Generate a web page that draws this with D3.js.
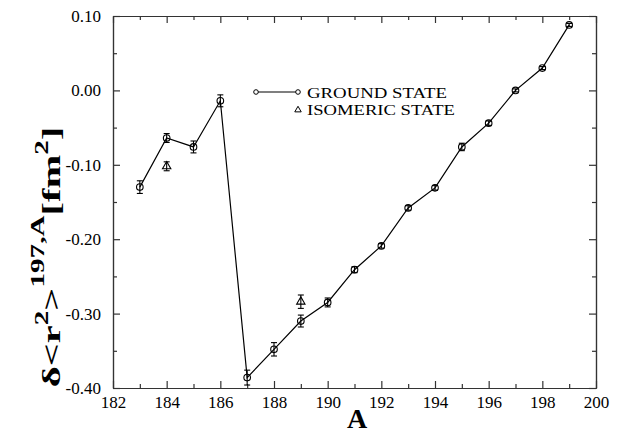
<!DOCTYPE html>
<html lang="en">
<head>
	<meta charset="UTF-8">
	<title>Document</title>
	<script type="text/javascript" src="https://cdn.jsdelivr.net/npm/d3@7/dist/d3.min.js"></script>
	<style>
		body { margin: 0; background: #fff; }
		text { font-family: "Liberation Serif", "Times New Roman", serif; }
	</style>
</head>
<body>
	<div class="chart"></div>
	<script type="text/javascript">
		// ground state
		var massA = [183,184,185,186,187,188,189,190,191,192,193,194,195,196,197,198,199];
		var ground = [-0.130,-0.064,-0.076,-0.014,-0.386,-0.348,-0.310,-0.285,-0.241,-0.209,-0.158,-0.131,-0.076,-0.044,0.000,0.030,0.088];
		var groundErr = [0.0085,0.006,0.008,0.008,0.010,0.009,0.008,0.006,0.004,0.003,0.003,0.003,0.005,0.003,0.002,0.002,0.002];
		// isomeric state
		var isoA = [184,189];
		var iso = [-0.102,-0.284];
		var isoErr = [0.006,0.009];

		var xTicks = [182,184,186,188,190,192,194,196,198,200];
		var xMinor = [183,185,187,189,191,193,195,197,199];
		var yTicks = [0.10,0.00,-0.10,-0.20,-0.30,-0.40];
		var yMinor = [0.05,-0.05,-0.15,-0.25,-0.35];

		var W = 618, H = 435;
		var m = {left:113, right:596, top:16, bottom:388};

		var svg = d3.select('.chart').append('svg')
			.attr('width',W).attr('height',H).style('background','#fff');

		var x = d3.scaleLinear().domain([182,200]).range([m.left,m.right]);
		var y = d3.scaleLinear().domain([-0.40,0.10]).range([m.bottom,m.top]);

		var axisColor = '#333';
		function styleAxis(g){
			g.attr('font-family','Liberation Serif').attr('font-size',17);
			g.selectAll('path,line').attr('stroke',axisColor).attr('stroke-width',1.2);
			g.selectAll('text').attr('fill','#000');
		}

		// bottom
		svg.append('g').attr('transform','translate(0,'+m.bottom+')')
			.call(d3.axisBottom(x).tickValues(xTicks).tickSize(-7).tickSizeOuter(0).tickPadding(8).tickFormat(d3.format('d')))
			.call(styleAxis);
		svg.append('g').attr('transform','translate(0,'+m.bottom+')')
			.call(d3.axisBottom(x).tickValues(xMinor).tickSize(-4).tickSizeOuter(0).tickFormat(''))
			.call(styleAxis);
		// top
		svg.append('g').attr('transform','translate(0,'+m.top+')')
			.call(d3.axisTop(x).tickValues(xTicks).tickSize(-7).tickSizeOuter(0).tickFormat(''))
			.call(styleAxis);
		svg.append('g').attr('transform','translate(0,'+m.top+')')
			.call(d3.axisTop(x).tickValues(xMinor).tickSize(-4).tickSizeOuter(0).tickFormat(''))
			.call(styleAxis);
		// left
		svg.append('g').attr('transform','translate('+m.left+',0)')
			.call(d3.axisLeft(y).tickValues(yTicks).tickSize(-7).tickSizeOuter(0).tickPadding(12)
				.tickFormat(function(d){ return Math.abs(d) < 1e-9 ? '0.00' : d.toFixed(2); }))
			.call(styleAxis);
		svg.append('g').attr('transform','translate('+m.left+',0)')
			.call(d3.axisLeft(y).tickValues(yMinor).tickSize(-4).tickSizeOuter(0).tickFormat(''))
			.call(styleAxis);
		// right
		svg.append('g').attr('transform','translate('+m.right+',0)')
			.call(d3.axisRight(y).tickValues(yTicks).tickSize(-7).tickSizeOuter(0).tickFormat(''))
			.call(styleAxis);
		svg.append('g').attr('transform','translate('+m.right+',0)')
			.call(d3.axisRight(y).tickValues(yMinor).tickSize(-4).tickSizeOuter(0).tickFormat(''))
			.call(styleAxis);

		// axis titles
		svg.append('text')
			.attr('x',357).attr('y',428)
			.attr('text-anchor','middle')
			.style('font-size','28px').style('font-weight','bold')
			.text('A');

		// y title, stretched along its length like the original
		var yl = svg.append('text')
			.attr('transform','translate(60,257) rotate(-90) scale(1.62,1)')
			.attr('text-anchor','middle')
			.style('font-size','25px').style('font-weight','bold');
		yl.append('tspan').text('δ<r');
		yl.append('tspan').attr('dy',-12).style('font-size','18px').text('2');
		yl.append('tspan').attr('dy',12).text('>');
		yl.append('tspan').attr('dy',-16).style('font-size','18px').text('197,A');
		yl.append('tspan').attr('dy',16).text('[fm');
		yl.append('tspan').attr('dy',-12).style('font-size','18px').text('2');
		yl.append('tspan').attr('dy',12).text(']');

		// ground state series
		var gData = massA.map(function(a,i){ return {a:a, v:ground[i], e:groundErr[i]}; });
		var iData = isoA.map(function(a,i){ return {a:a, v:iso[i], e:isoErr[i]}; });

		var line = d3.line().x(function(d){ return x(d.a); }).y(function(d){ return y(d.v); });
		svg.append('path').datum(gData)
			.attr('d',line).attr('fill','none').attr('stroke','#000').attr('stroke-width',1.2);

		function errBars(data){
			var g = svg.append('g').attr('stroke','#000').attr('stroke-width',1.1);
			data.forEach(function(d){
				var x0 = x(d.a), y1 = y(d.v + d.e), y2 = y(d.v - d.e);
				g.append('line').attr('x1',x0).attr('x2',x0).attr('y1',y1).attr('y2',y2);
				g.append('line').attr('x1',x0-3).attr('x2',x0+3).attr('y1',y1).attr('y2',y1);
				g.append('line').attr('x1',x0-3).attr('x2',x0+3).attr('y1',y2).attr('y2',y2);
			});
		}
		errBars(gData);
		errBars(iData);

		svg.append('g').selectAll('circle').data(gData).enter().append('circle')
			.attr('cx',function(d){ return x(d.a); })
			.attr('cy',function(d){ return y(d.v); })
			.attr('r',3.3)
			.attr('fill','none').attr('stroke','#000').attr('stroke-width',1.1);

		var tri = d3.symbol().type(d3.symbolTriangle).size(30);
		svg.append('g').selectAll('path').data(iData).enter().append('path')
			.attr('d',tri)
			.attr('transform',function(d){ return 'translate('+x(d.a)+','+y(d.v)+')'; })
			.attr('fill','none').attr('stroke','#000').attr('stroke-width',1.1);

		// legend
		var leg = svg.append('g');
		leg.append('line').attr('x1',256).attr('x2',298).attr('y1',92).attr('y2',92)
			.attr('stroke','#000').attr('stroke-width',1.1);
		leg.selectAll('circle').data([256,298]).enter().append('circle')
			.attr('cx',function(d){ return d; }).attr('cy',92).attr('r',2.3)
			.attr('fill','#fff').attr('stroke','#000').attr('stroke-width',1);
		leg.append('path').attr('d',d3.symbol().type(d3.symbolTriangle).size(18))
			.attr('transform','translate(298,110)')
			.attr('fill','none').attr('stroke','#000').attr('stroke-width',1);
		leg.append('text').attr('x',307).attr('y',98).style('font-size','14px')
			.attr('textLength',140).attr('lengthAdjust','spacingAndGlyphs').text('GROUND STATE');
		leg.append('text').attr('x',307).attr('y',115).style('font-size','14px')
			.attr('textLength',148).attr('lengthAdjust','spacingAndGlyphs').text('ISOMERIC STATE');
	</script>
</body>
</html>
